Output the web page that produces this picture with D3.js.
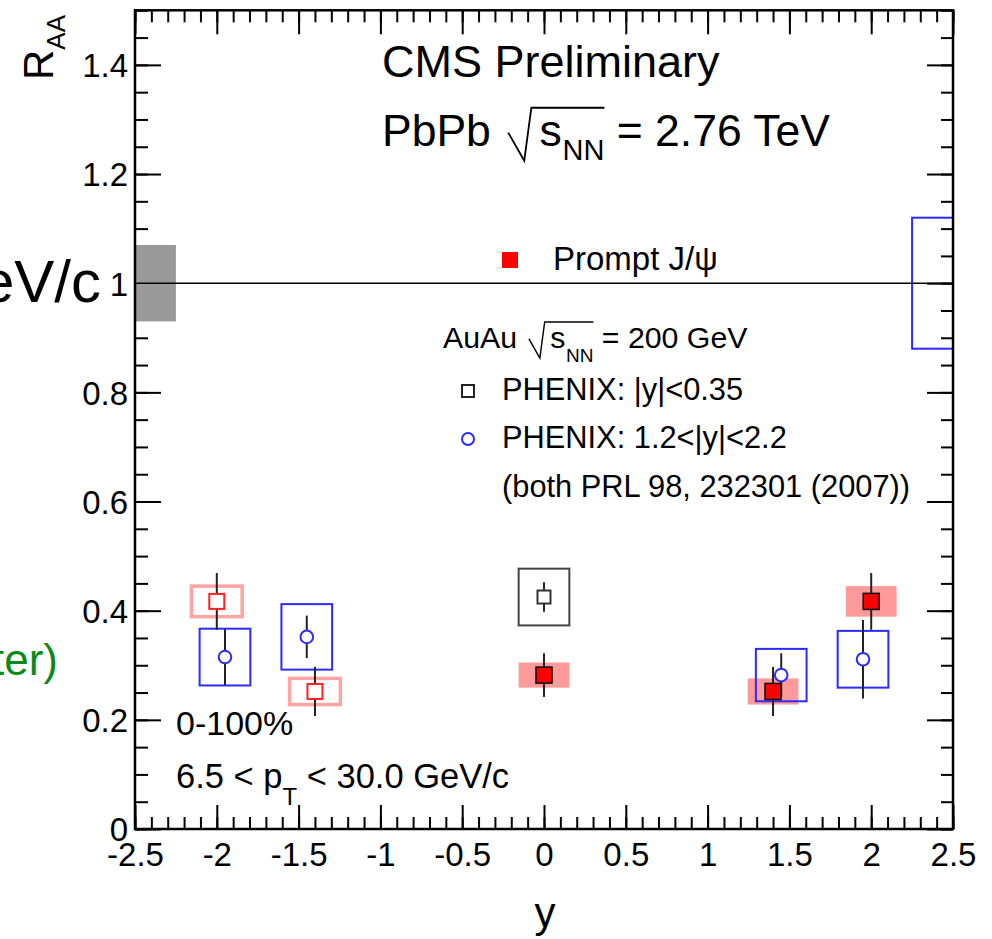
<!DOCTYPE html>
<html>
<head>
<meta charset="utf-8">
<script src="https://cdn.jsdelivr.net/npm/d3@7"></script>
<style>
  html, body { margin: 0; padding: 0; background: #fff; }
  svg { display: block; font-family: "Liberation Sans", Arial, Helvetica, sans-serif; }
</style>
</head>
<body>
<svg id="chart" width="992" height="939"></svg>
<script>
// CMS prompt J/psi nuclear modification factor vs rapidity (PbPb 2.76 TeV),
// compared with PHENIX AuAu 200 GeV results.
const cmsRapidity = [0.0, 1.4, 2.0];
const cmsRaa      = [0.282, 0.252, 0.417];
const cmsStat     = [0.040, 0.045, 0.052];
const cmsSyst     = [0.023, 0.024, 0.028];
const cmsGlobalUnc = 0.07;

const phenixMidRapidity = [0.0];
const phenixMidRaa      = [0.425];
const phenixMidStat     = [0.027];
const phenixMidSyst     = [0.052];

const phenixFwdRapidity = [-1.95, -1.45, 1.45, 1.95];
const phenixFwdRaa      = [0.315, 0.352, 0.282, 0.311];
const phenixFwdStat     = [0.051, 0.039, 0.040, 0.072];
const phenixFwdSyst     = [0.052, 0.060, 0.048, 0.052];
const phenixGlobalUnc = 0.12;

const xTicks = [-2.5, -2, -1.5, -1, -0.5, 0, 0.5, 1, 1.5, 2, 2.5];
const yTicks = [0, 0.2, 0.4, 0.6, 0.8, 1, 1.2, 1.4];
const xMinorTicks = d3.range(-25, 26).map(i => i / 10);
const yMinorTicks = d3.range(0, 31).map(i => i * 0.05);
const boxHalfWidth = 0.155;
const globalBoxWidth = 0.25;

const svg = d3.select("#chart");
const L = 135, R = 953, T = 10.3, B = 829;
const x = d3.scaleLinear().domain([-2.5, 2.5]).range([L, R]);
const y = d3.scaleLinear().domain([0, 1.5]).range([B, T]);

const fmt = d => String(+(+d).toFixed(2));

// ---- axes (ticks pointing inward on all four sides) ----
function addAxis(axis, transform, withLabels) {
  const g = svg.append("g").attr("transform", transform).call(axis);
  g.select(".domain").remove();
  g.selectAll(".tick line").attr("stroke", "#000").attr("stroke-width", 2);
  if (!withLabels) g.selectAll(".tick text").remove();
  return g;
}
const gx = addAxis(d3.axisBottom(x).tickValues(xTicks).tickSize(-24).tickSizeOuter(0).tickFormat(fmt),
                   `translate(0,${B})`, true);
gx.selectAll(".tick text").attr("y", 13).attr("dy", "0.72em")
  .attr("font-size", 33).attr("font-family", null).attr("fill", "#000");
addAxis(d3.axisBottom(x).tickValues(xMinorTicks).tickSize(-12).tickSizeOuter(0).tickFormat(""),
        `translate(0,${B})`, false);
addAxis(d3.axisTop(x).tickValues(xTicks).tickSize(-24).tickSizeOuter(0).tickFormat(""),
        `translate(0,${T})`, false);
addAxis(d3.axisTop(x).tickValues(xMinorTicks).tickSize(-12).tickSizeOuter(0).tickFormat(""),
        `translate(0,${T})`, false);

const gy = addAxis(d3.axisLeft(y).tickValues(yTicks).tickSize(-26).tickSizeOuter(0).tickPadding(7).tickFormat(fmt),
                   `translate(${L},0)`, true);
gy.selectAll(".tick text").attr("dy", "0.36em")
  .attr("font-size", 33).attr("font-family", null).attr("fill", "#000");
addAxis(d3.axisLeft(y).tickValues(yMinorTicks).tickSize(-13).tickSizeOuter(0).tickFormat(""),
        `translate(${L},0)`, false);
addAxis(d3.axisRight(y).tickValues(yTicks).tickSize(-26).tickSizeOuter(0).tickFormat(""),
        `translate(${R},0)`, false);
addAxis(d3.axisRight(y).tickValues(yMinorTicks).tickSize(-12).tickSizeOuter(0).tickFormat(""),
        `translate(${R},0)`, false);

// ---- data ----
const cms = cmsRapidity.map((r, i) => ({ y: r, raa: cmsRaa[i], stat: cmsStat[i], syst: cmsSyst[i] }));
// forward-rapidity CMS points mirrored to negative rapidity
const cmsMirror = cms.filter(d => d.y > 0).map(d => ({ ...d, y: -d.y }));
const phxMid = phenixMidRapidity.map((r, i) => ({ y: r, raa: phenixMidRaa[i], stat: phenixMidStat[i], syst: phenixMidSyst[i] }));
const phxFwd = phenixFwdRapidity.map((r, i) => ({ y: r, raa: phenixFwdRaa[i], stat: phenixFwdStat[i], syst: phenixFwdSyst[i] }));

const plot = svg.append("g");

// global normalisation uncertainties at R_AA = 1
plot.append("rect")
  .attr("x", x(-2.5)).attr("width", x(-2.5 + globalBoxWidth) - x(-2.5))
  .attr("y", y(1 + cmsGlobalUnc)).attr("height", y(1 - cmsGlobalUnc) - y(1 + cmsGlobalUnc))
  .attr("fill", "#999");
plot.append("rect")
  .attr("x", x(2.5 - globalBoxWidth)).attr("width", x(2.5) - x(2.5 - globalBoxWidth))
  .attr("y", y(1 + phenixGlobalUnc)).attr("height", y(1 - phenixGlobalUnc) - y(1 + phenixGlobalUnc))
  .attr("fill", "none").attr("stroke", "#2b2bff").attr("stroke-width", 2);

plot.append("line")
  .attr("x1", x(-2.5)).attr("x2", x(2.5)).attr("y1", y(1)).attr("y2", y(1))
  .attr("stroke", "#000").attr("stroke-width", 1.6);

function sysBoxes(data, fill, stroke, sw) {
  plot.append("g").selectAll("rect").data(data).join("rect")
    .attr("x", d => x(d.y - boxHalfWidth))
    .attr("width", d => x(d.y + boxHalfWidth) - x(d.y - boxHalfWidth))
    .attr("y", d => y(d.raa + d.syst))
    .attr("height", d => y(d.raa - d.syst) - y(d.raa + d.syst))
    .attr("fill", fill).attr("stroke", stroke).attr("stroke-width", sw);
}
sysBoxes(cms, "#ff9a9a", "none", 0);
sysBoxes(cmsMirror, "none", "#ffa3a3", 3.5);
sysBoxes(phxFwd, "none", "#2b2bff", 2);
sysBoxes(phxMid, "none", "#444", 2);

function statBars(data) {
  plot.append("g").selectAll("line").data(data).join("line")
    .attr("x1", d => x(d.y)).attr("x2", d => x(d.y))
    .attr("y1", d => y(d.raa + d.stat)).attr("y2", d => y(d.raa - d.stat))
    .attr("stroke", "#222").attr("stroke-width", 2);
}
statBars(cms); statBars(cmsMirror); statBars(phxFwd); statBars(phxMid);

function squares(data, size, fill, stroke, sw) {
  plot.append("g").selectAll("rect").data(data).join("rect")
    .attr("x", d => x(d.y) - size / 2).attr("y", d => y(d.raa) - size / 2)
    .attr("width", size).attr("height", size)
    .attr("fill", fill).attr("stroke", stroke).attr("stroke-width", sw);
}
squares(phxMid, 13, "#fff", "#333", 2);
squares(cmsMirror, 15, "#fff", "#ff2020", 2);
plot.append("g").selectAll("circle").data(phxFwd).join("circle")
  .attr("cx", d => x(d.y)).attr("cy", d => y(d.raa)).attr("r", 6.3)
  .attr("fill", "#fff").attr("stroke", "#2b2bff").attr("stroke-width", 2);
squares(cms, 16, "#ff0000", "#111", 1.6);

// frame
svg.append("rect").attr("x", L).attr("y", T).attr("width", R - L).attr("height", B - T)
  .attr("fill", "none").attr("stroke", "#000").attr("stroke-width", 2.5);

// ---- text ----
function label(px, py, size, str, anchor) {
  return svg.append("text").attr("x", px).attr("y", py).attr("font-size", size)
    .attr("text-anchor", anchor || "start").attr("fill", "#000").text(str);
}
// "<pre> sqrt(s_NN) <post>"
function sqrtLine(x0, base, size, subSize, subShift, pre, post, sw) {
  const g = svg.append("g");
  const t1 = g.append("text").attr("x", x0).attr("y", base).attr("font-size", size).text(pre);
  let cx = x0 + t1.node().getComputedTextLength() + size * 0.39;
  const rw = size * 0.52, top = base - size * 0.86, bot = base + size * 0.33;
  const radStart = cx;
  cx += rw + size * 0.18;
  const ts = g.append("text").attr("x", cx).attr("y", base).attr("font-size", size).text("s");
  cx += ts.node().getComputedTextLength() + size * 0.02;
  const tsub = g.append("text").attr("x", cx).attr("y", base + subShift).attr("font-size", subSize).text("NN");
  cx += tsub.node().getComputedTextLength();
  g.append("path")
    .attr("d", `M${radStart},${base - size * 0.3} L${radStart + size * 0.36},${bot} L${radStart + rw},${top} L${cx},${top}`)
    .attr("fill", "none").attr("stroke", "#000").attr("stroke-width", sw);
  g.append("text").attr("x", cx).attr("y", base).attr("font-size", size)
    .attr("xml:space", "preserve").style("white-space", "pre").text(post);
}

label(382, 77, 45, "CMS Preliminary");
sqrtLine(382, 146, 44.5, 29, 14, "PbPb", " = 2.76 TeV", 1.8);

// legend
svg.append("rect").attr("x", 502).attr("y", 252).attr("width", 16).attr("height", 16).attr("fill", "#ff0000");
label(553, 270, 33, "Prompt J/\u03c8");
sqrtLine(443, 348, 30.3, 19, 14, "AuAu", " = 200 GeV", 1.4);
svg.append("rect").attr("x", 462).attr("y", 385).attr("width", 12).attr("height", 12)
  .attr("fill", "#fff").attr("stroke", "#222").attr("stroke-width", 2);
label(502, 400, 30.8, "PHENIX: |y|<0.35");
svg.append("circle").attr("cx", 468).attr("cy", 439).attr("r", 6)
  .attr("fill", "#fff").attr("stroke", "#2b2bff").attr("stroke-width", 2);
label(502, 448, 30.8, "PHENIX: 1.2<|y|<2.2");
label(502, 497, 30.8, "(both PRL 98, 232301 (2007))");

label(176, 735, 34, "0-100%");
const pt = label(176, 788, 34.5, "6.5 < p");
pt.append("tspan").attr("dy", 17).attr("font-size", 24).text("T");
pt.append("tspan").attr("dy", -17).style("white-space", "pre").text(" < 30.0 GeV/c");

// axis titles
label(545, 927, 42, "y", "middle");
const ry = svg.append("text").attr("transform", "translate(53,80) rotate(-90)")
  .attr("font-size", 42).attr("fill", "#000").text("R");
ry.append("tspan").attr("dy", 12).attr("font-size", 26).text("AA");

// neighbouring labels at the left margin
label(101, 302, 60, "GeV/c", "end");
label(58, 675, 44, "ter)", "end").attr("fill", "#0b8a1b");
</script>
</body>
</html>
